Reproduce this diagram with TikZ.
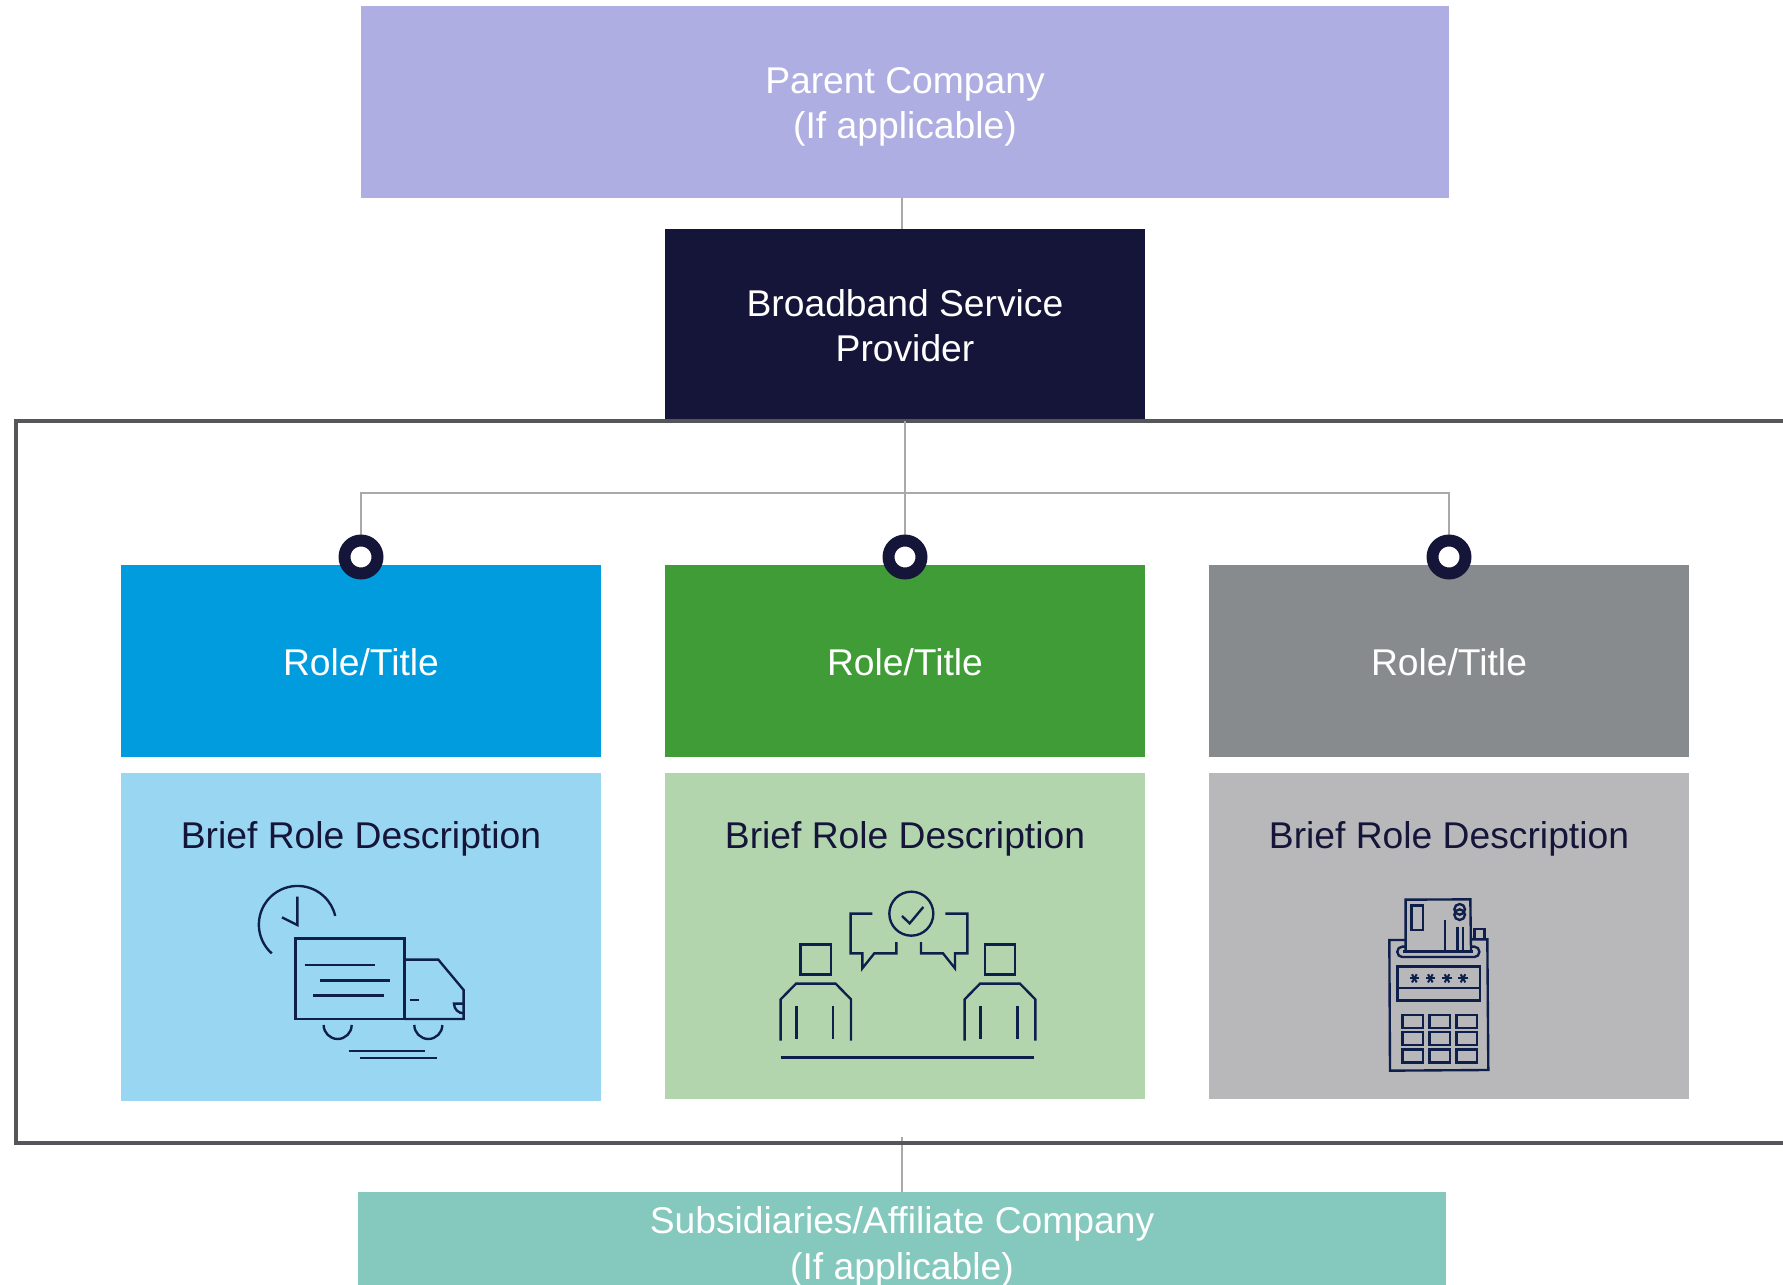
\documentclass[tikz,border=0pt]{standalone}
\usepackage{fontspec}
\setmainfont{Liberation Sans}
\definecolor{navy}{HTML}{141538}
\definecolor{parentc}{HTML}{AFAEE3}
\definecolor{bluec}{HTML}{009CDE}
\definecolor{greenc}{HTML}{409C36}
\definecolor{greyc}{HTML}{888B8D}
\definecolor{lblue}{HTML}{99D6F2}
\definecolor{lgreen}{HTML}{B2D5AE}
\definecolor{lgrey}{HTML}{B8B8BA}
\definecolor{teal2}{HTML}{85C9BE}
\definecolor{framec}{HTML}{54565A}
\definecolor{linkc}{HTML}{A9A9A9}
\definecolor{iconb}{HTML}{0F1F4B}
\tikzset{
  box/.style={rectangle,inner sep=0pt,outer sep=0pt,draw=none},
  wide/.style={box,minimum width=9.6cm,minimum height=3.84cm},
  descbox/.style={box,minimum width=9.6cm},
  lighttext/.style={inner sep=0pt,align=center,text=white,font=\fontsize{21.2pt}{25.8pt}\selectfont},
  desctext/.style={inner sep=0pt,text=navy,font=\fontsize{21.2pt}{25.8pt}\selectfont},
  link/.style={draw=linkc,line width=1.2pt},
  ring/.style={circle,draw=navy,fill=white,line width=6.8pt,minimum size=0.66cm,inner sep=0pt,outer sep=0pt},
  icon/.style={draw=iconb,line width=1.35pt,line cap=butt,line join=miter},
}
\begin{document}
\begin{tikzpicture}[x=0.02cm,y=-0.02cm]
\useasboundingbox (0,0) rectangle (1783,1285);
\clip (0,0) rectangle (1783,1285);
\fill[white] (0,0) rectangle (1783,1285);

\node[box,fill=parentc,minimum width=21.76cm,minimum height=3.84cm] (parent) at (905,102) {};
\node[lighttext] (parenttext) at (905,107) {Parent Company\\(If applicable)};
\node[wide,fill=navy] (bsp) at (905,325) {};
\node[lighttext] (bsptext) at (905,326) {Broadband Service\\Provider};
\node[box,fill=teal2,minimum width=21.76cm,minimum height=2.2cm] (sub) at (902,1247) {};
\node[lighttext] (subtext) at (902,1247) {Subsidiaries/Affiliate Company\\(If applicable)};

\coordinate (pconn) at (902,198);
\coordinate (bconn) at (902,229);
\coordinate (fconn) at (902,1137);
\coordinate (sconn) at (902,1192);
\draw[link] (pconn) -- (bconn);
\draw[link] (fconn) -- (sconn);

\node[rectangle,draw=framec,line width=2.6pt,inner sep=0pt,outer sep=0pt,minimum width=36cm,minimum height=14.44cm] (frame) at (916,782) {};

\node[wide,fill=bluec] (r1) at (361,661) {};
\node[wide,fill=greenc] (r2) at (905,661) {};
\node[wide,fill=greyc] (r3) at (1449,661) {};
\node[lighttext] (rt1) at (361,662) {Role/Title};
\node[lighttext] (rt2) at (905,662) {Role/Title};
\node[lighttext] (rt3) at (1449,662) {Role/Title};

\node[descbox,fill=lblue,minimum height=6.56cm] (d1) at (361,937) {};
\node[descbox,fill=lgreen,minimum height=6.52cm] (d2) at (905,936) {};
\node[descbox,fill=lgrey,minimum height=6.52cm] (d3) at (1449,936) {};
\node[desctext] (t1) at (361,838.5) {Brief Role Description};
\node[desctext] (t2) at (905,838.5) {Brief Role Description};
\node[desctext] (t3) at (1449,838.5) {Brief Role Description};

\coordinate (hub) at (905,493);
\coordinate (top1) at (361,556);
\coordinate (top2) at (905,421);
\coordinate (top3) at (1449,556);
\coordinate (mid2) at (905,556);
\draw[link] (top2) -- (mid2);
\draw[link] (top1) |- (hub) -| (top3);

\node[ring] (c1) at (361,557) {};
\node[ring] (c2) at (905,557) {};
\node[ring] (c3) at (1449,557) {};

% truck icon
\begin{scope}[shift={(230,860)},x=0.00667cm,y=-0.00667cm]
\draw[icon] (125,280) arc[start angle=132,end angle=347,radius=116];
\draw[icon] (202,110) -- (202,195) -- (156,172);
\draw[icon] (197,236) rectangle (524,477);
\draw[icon] (524,299) -- (625,299) -- (701,390) -- (701,477) -- (524,477);
\draw[icon] (224,315) -- (434,315);
\draw[icon] (270,361) -- (481,361);
\draw[icon] (250,407) -- (461,407);
\draw[icon] (540,420) -- (566,420);
\draw[icon] (701,431) -- (672,431) arc[start angle=180,end angle=90,radius=29];
\draw[icon] (281,495) arc[start angle=180,end angle=0,radius=42];
\draw[icon] (553,495) arc[start angle=180,end angle=0,radius=42];
\draw[icon] (356,573) -- (586,573);
\draw[icon] (390,594) -- (620,594);
\end{scope}

% meeting icon
\begin{scope}[shift={(760,870)},x=0.00667cm,y=-0.00667cm]
\draw[icon] (454,131) circle[radius=66];
\draw[icon] (426,138) -- (449,160) -- (490,111);
\draw[icon] (337,131) -- (272,131) -- (272,250) -- (307,250) -- (307,295) -- (343,250) -- (409,250) -- (409,216);
\draw[icon] (556,131) -- (622,131) -- (622,250) -- (585,250) -- (585,295) -- (549,250) -- (483,250) -- (483,216);
\draw[icon] (122,223) rectangle (213,314);
\draw[icon] (675,223) rectangle (765,314);
\draw[icon] (62,512) -- (62,388) -- (108,341) -- (227,341) -- (273,388) -- (273,512);
\draw[icon] (614,512) -- (614,388) -- (660,341) -- (780,341) -- (826,388) -- (826,512);
\draw[icon] (110,408) -- (110,508);
\draw[icon] (219,408) -- (219,508);
\draw[icon] (662,408) -- (662,508);
\draw[icon] (772,408) -- (772,508);
\draw[icon] (62,563) -- (822,563);
\end{scope}

% calculator icon
\begin{scope}[shift={(1370,880)},x=0.00667cm,y=-0.00667cm]
\draw[icon] (107,180) -- (58,180) -- (60,572) -- (355,570) -- (352,178) -- (302,178);
\draw[icon] (107,214) -- (107,59) -- (301,58) -- (303,212);
\draw[icon] (125,76) rectangle (159,150);
\draw[icon] (269,88) circle[radius=16];
\draw[icon] (269,104) circle[radius=16];
\draw[icon] (225,121) -- (225,212);
\draw[icon] (263,140) -- (263,212);
\draw[icon] (279,140) -- (279,212);
\draw[icon] (314,178) -- (314,147) -- (343,147) -- (343,178);
\draw[icon,rounded corners=2.8pt] (107,200) -- (82,200) -- (82,231) -- (328,231) -- (328,200) -- (303,200);
\draw[icon] (100,214) -- (310,214);
\draw[icon] (82,260) rectangle (330,361);
\draw[icon] (82,324) -- (330,324);
\foreach \sx in {133,181,231,279}{
  \foreach \ang in {0,60,120}{
    \draw[icon,line width=1.15pt] (\sx,295) ++(\ang:14) -- ++(\ang+180:28);
  }
}
\foreach \sy in {405,456,508}{
  \foreach \sx in {97,178,259}{
    \draw[icon] (\sx,\sy) rectangle ++(62,39);
  }
}
\end{scope}
\end{tikzpicture}
\end{document}
